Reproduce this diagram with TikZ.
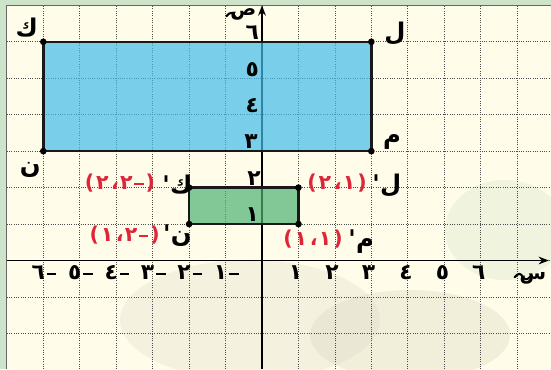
\documentclass[tikz,border=0pt]{standalone}
\usepackage{fontspec}
\newfontfamily\arf{DejaVu Sans}
\usetikzlibrary{arrows.meta}
\definecolor{paper}{RGB}{255,252,234}
\definecolor{framegreen}{RGB}{205,228,202}
\definecolor{bluefill}{RGB}{65,189,235}
\definecolor{greenfill}{RGB}{76,178,115}
\definecolor{redlab}{RGB}{222,38,56}
\definecolor{photoA}{RGB}{232,230,208}
\definecolor{photoB}{RGB}{224,222,200}
\definecolor{photoC}{RGB}{228,238,214}
\newcommand\gl[1]{\hbox{#1}}
\newcommand\mn{\raisebox{3.2pt}{\rule{7.5pt}{1.6pt}}}
\tikzset{
  gridline/.style={black!70, line width=0.5pt, dash pattern=on 0.7pt off 1.1pt},
  axisline/.style={black, line width=1.5pt},
  rectline/.style={black!90, line width=2pt, line join=miter},
  wave/.style={black, line width=1.6pt, line cap=round},
  dig/.style={font=\arf\bfseries\fontsize{17}{19}\selectfont, inner sep=0pt, anchor=base},
  redtxt/.style={font=\arf\bfseries\fontsize{16}{18}\selectfont, text=redlab, inner sep=0pt},
  letter/.style={font=\arf\bfseries\fontsize{19}{21}\selectfont, inner sep=0pt},
  axname/.style={font=\arf\bfseries\fontsize{15}{17}\selectfont, inner sep=0pt, anchor=base east},
}
\begin{document}
\begin{tikzpicture}[x=1cm,y=1cm]
\useasboundingbox (-7.188,-2.977) rectangle (7.929,7.147);
% frame and paper
\fill[framegreen] (-7.188,-2.977) rectangle (7.929,7.147);
\fill[paper] (-7,-2.977) rectangle (7.929,7.0);
% faint photo in background
\begin{scope}[x=0.027435cm, y=-0.027435cm, shift={(-7.188cm,7.147cm)}]
  \fill[photoA, opacity=0.45] (250,320) ellipse (130 and 60);
  \fill[photoB, opacity=0.45] (410,335) ellipse (100 and 45);
  \fill[photoC, opacity=0.55] (505,230) ellipse (60 and 50);
\end{scope}
% grid
\foreach \x in {-6,...,7} \draw[gridline] (\x,-2.977) -- (\x,7);
\foreach \y in {-2,...,6} \draw[gridline] (-7,\y) -- (7.929,\y);
\draw[black!60, line width=0.8pt] (-7,-2.977) -- (-7,7) -- (7.929,7);
% axes
\coordinate (xs) at (-7,0);
\coordinate (xe) at (7.87,0);
\coordinate (ys) at (0,-2.977);
\coordinate (ye) at (0,7.0);
\draw[axisline, -{Stealth[length=8pt, width=6pt]}] (xs) -- (xe);
\draw[axisline, -{Stealth[length=8pt, width=6pt]}] (ys) -- (ye);
% big rectangle
\coordinate (K) at (-6,6);
\coordinate (L) at (3,6);
\coordinate (M) at (3,3);
\coordinate (N) at (-6,3);
\fill[bluefill, opacity=0.7] (K) rectangle (M);
\draw[rectline] (K) -- (L) -- (M) -- (N) -- cycle;
\foreach \p in {K,L,M,N} \fill[black] (\p) circle (2.6pt);
% small rectangle
\coordinate (K2) at (-2,2);
\coordinate (L2) at (1,2);
\coordinate (M2) at (1,1);
\coordinate (N2) at (-2,1);
\fill[greenfill, opacity=0.7] (K2) rectangle (M2);
\draw[rectline] (K2) -- (L2) -- (M2) -- (N2) -- cycle;
\foreach \p in {K2,L2,M2,N2} \fill[black] (\p) circle (2.6pt);
% axis names
\node[axname] (yname) at (-0.15,6.72) {ص};
\draw[wave] (-0.55,6.72) .. controls (-0.63,6.62) and (-0.70,6.62) .. (-0.76,6.72)
  .. controls (-0.82,6.82) and (-0.88,6.82) .. (-0.98,6.70);
\node[axname] (xname) at (7.80,-0.51) {س};
\draw[wave] (7.36,-0.44) .. controls (7.28,-0.54) and (7.21,-0.54) .. (7.15,-0.44)
  .. controls (7.09,-0.34) and (7.03,-0.34) .. (6.93,-0.46);
% y labels
\node[dig] (y6) at (-0.27,6.06) {٦};
\node[dig] (y5) at (-0.27,5.06) {٥};
\node[dig] (y4) at (-0.27,4.06) {٤};
\node[dig] (y3) at (-0.30,3.06) {٣};
\node[dig] (y2) at (-0.22,2.06) {٢};
\node[dig] (y1) at (-0.27,1.06) {١};
% x labels
\node[dig] (x1) at (0.92,-0.51) {١};
\node[dig] (x2) at (1.92,-0.51) {٢};
\node[dig] (x3) at (2.92,-0.51) {٣};
\node[dig] (x4) at (3.95,-0.51) {٤};
\node[dig] (x5) at (4.95,-0.51) {٥};
\node[dig] (x6) at (5.95,-0.51) {٦};
\node[dig] (xm1) at (-0.98,-0.51) {\gl{١}\kern1.5pt\mn};
\node[dig] (xm2) at (-1.98,-0.51) {\gl{٢}\kern1.5pt\mn};
\node[dig] (xm3) at (-2.98,-0.51) {\gl{٣}\kern1.5pt\mn};
\node[dig] (xm4) at (-3.98,-0.51) {\gl{٤}\kern1.5pt\mn};
\node[dig] (xm5) at (-4.98,-0.51) {\gl{٥}\kern1.5pt\mn};
\node[dig] (xm6) at (-5.98,-0.51) {\gl{٦}\kern1.5pt\mn};
% vertex letters
\node[letter] (lk) at (-6.45,6.38) {ك};
\node[letter] (ll) at (3.65,6.24) {ل};
\node[letter] (lm) at (3.57,3.25) {م};
\node[letter] (ln) at (-6.36,2.48) {ن};
\node[letter, anchor=west] (lk2) at (-2.74,2.07) {\gl{'}\kern0.3pt\gl{ك}};
\node[letter, anchor=west] (ln2) at (-2.72,0.67) {\gl{'}\kern0.3pt\gl{ن}};
\node[letter, anchor=west] (ll2) at (3.02,2.07) {\gl{'}\kern0.3pt\gl{ل}};
\node[letter, anchor=west] (lm2) at (2.36,0.51) {\gl{'}\kern0.3pt\gl{م}};
% red coordinates
\node[redtxt, anchor=east] (ck2) at (-2.93,2.13) {\gl{(}\kern1.5pt\gl{٢}\kern2pt\gl{،}\kern1pt\gl{٢}\kern1pt\textcolor{redlab}{\mn}\kern1.5pt\gl{)}};
\node[redtxt, anchor=east] (cn2) at (-2.80,0.70) {\gl{(}\kern1.5pt\gl{١}\kern2pt\gl{،}\kern1pt\gl{٢}\kern1pt\textcolor{redlab}{\mn}\kern1.5pt\gl{)}};
\node[redtxt] (cl2) at (2.06,2.13) {\gl{(}\kern1.5pt\gl{٢}\kern2pt\gl{،}\kern1pt\gl{١}\kern1.5pt\gl{)}};
\node[redtxt, anchor=east] (cm2) at (2.22,0.59) {\gl{(}\kern1.5pt\gl{١}\kern2pt\gl{،}\kern1pt\gl{١}\kern1.5pt\gl{)}};
\end{tikzpicture}
\end{document}
